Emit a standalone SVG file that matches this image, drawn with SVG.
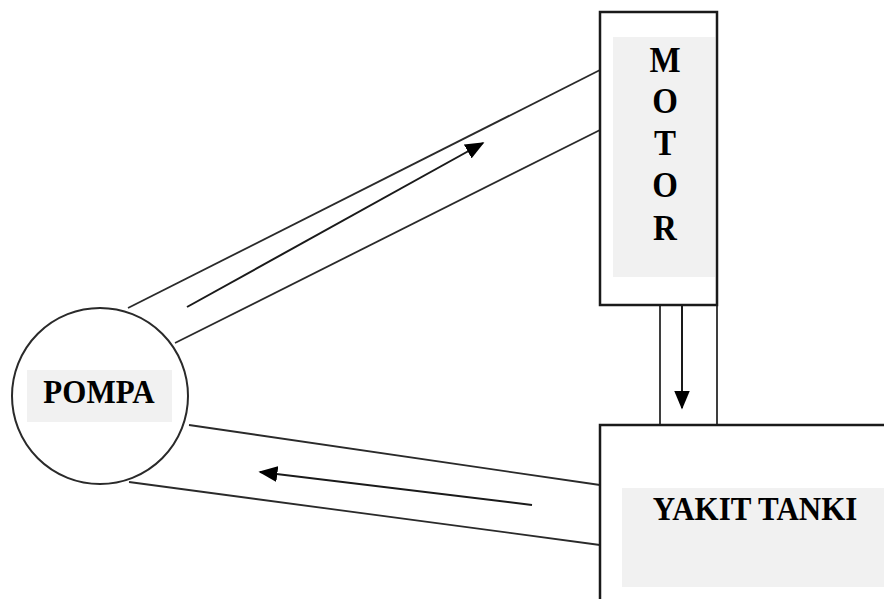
<svg xmlns="http://www.w3.org/2000/svg" width="884" height="599" viewBox="0 0 884 599">
  <style>
    .box { fill: #ffffff; stroke: #1a1a1a; stroke-width: 2.5; }
    .pump { fill: #ffffff; stroke: #2a2a2a; stroke-width: 2; }
    .pad { fill: #f1f1f1; }
    .lbl { font-family: "Liberation Serif", "Times New Roman", serif; font-weight: bold; font-size: 31px; fill: #000; text-anchor: middle; }
    .big { font-size: 33px; }
    .pipe { stroke: #2a2a2a; stroke-width: 1.8; fill: none; }
    .flow { stroke: #1a1a1a; stroke-width: 2; fill: none; marker-end: url(#head); }
  </style>
  <defs>
    <!-- long narrow-ish triangular arrowhead -->
    <marker id="head" viewBox="0 0 12 10" refX="11" refY="5" markerWidth="19" markerHeight="16" markerUnits="userSpaceOnUse" orient="auto">
      <path d="M0,0 L12,5 L0,10 z" fill="#000"/>
    </marker>
  </defs>
  <rect width="884" height="599" fill="#ffffff"/>

  <!-- pipes and flow arrows -->
  <g id="connectors">
    <!-- pump to motor -->
    <line class="pipe" x1="128" y1="308" x2="600" y2="70"/>
    <line class="pipe" x1="175" y1="343" x2="600" y2="130"/>
    <line class="flow" x1="187" y1="307" x2="483" y2="143"/>
    <!-- motor to tank -->
    <line class="pipe" x1="660" y1="305" x2="660" y2="425"/>
    <line class="pipe" x1="717" y1="305" x2="717" y2="425"/>
    <line class="flow" x1="682" y1="305" x2="682" y2="408"/>
    <!-- tank to pump -->
    <line class="pipe" x1="189" y1="425" x2="600" y2="485"/>
    <line class="pipe" x1="129" y1="482" x2="600" y2="545"/>
    <line class="flow" x1="532" y1="505" x2="260" y2="472"/>
  </g>

  <g id="motor">
    <rect class="box" x="600" y="12" width="117" height="293"/>
    <rect class="pad" x="613" y="37" width="102" height="240"/>
    <text class="lbl big" transform="translate(665,72) scale(1,1.08)">M</text>
    <text class="lbl big" transform="translate(665,113) scale(1,1.08)">O</text>
    <text class="lbl big" transform="translate(665,155) scale(1,1.08)">T</text>
    <text class="lbl big" transform="translate(665,197) scale(1,1.08)">O</text>
    <text class="lbl big" transform="translate(665,240) scale(1,1.08)">R</text>
  </g>

  <g id="pompa">
    <circle class="pump" cx="100" cy="396" r="88"/>
    <rect class="pad" x="27" y="370" width="145" height="52"/>
    <text class="lbl" transform="translate(99,403) scale(1,1.1)">POMPA</text>
  </g>

  <g id="yakit-tanki">
    <rect class="box" x="600" y="425" width="300" height="200"/>
    <rect class="pad" x="622" y="488" width="262" height="99"/>
    <text class="lbl" transform="translate(755,520) scale(1,1.1)">YAKIT TANKI</text>
  </g>
</svg>
